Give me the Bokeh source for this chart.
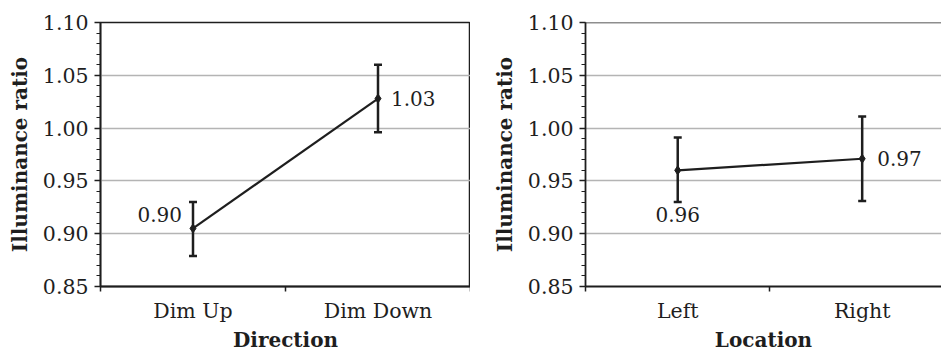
from bokeh.plotting import figure
from bokeh.layouts import row
from bokeh.models import ColumnDataSource, Whisker, TeeHead, FixedTicker, Range1d, Span
from bokeh.core.properties import value
from bokeh.embed import file_html
from bokeh.resources import INLINE

# ---- data ----
dir_categories = ["Dim Up", "Dim Down"]
dir_means = [0.905, 1.028]
dir_lower = [0.879, 0.996]
dir_upper = [0.930, 1.060]
dir_labels = ["0.90", "1.03"]

loc_categories = ["Left", "Right"]
loc_means = [0.960, 0.971]
loc_lower = [0.930, 0.931]
loc_upper = [0.991, 1.011]
loc_labels = ["0.96", "0.97"]

y_ticks = [0.85, 0.90, 0.95, 1.00, 1.05, 1.10]
y_tick_labels = ["0.85", "0.90", "0.95", "1.00", "1.05", "1.10"]
y_minor = [round(0.85 + 0.01 * i, 2) for i in range(26)]
y_start, y_end = 0.85, 1.10

FONT = "DejaVu Serif"
DARK = "#1e1e1e"
GRID = "#b4b4b4"


def make_panel(categories, means, lower, upper, labels, xlabel, width,
               left_border, x_end, label_specs, outline):
    xs = list(range(1, len(categories) + 1))
    src = ColumnDataSource(dict(x=xs, y=means, lo=lower, hi=upper, lab=labels))
    p = figure(width=width, height=354, output_backend="svg", toolbar_location=None,
               x_range=Range1d(0.5, x_end), y_range=Range1d(y_start, y_end),
               min_border_left=left_border, min_border_right=0,
               min_border_top=22, min_border_bottom=67)
    p.background_fill_color = "white"
    p.border_fill_color = "white"
    if outline:
        p.outline_line_color = DARK
        p.outline_line_width = 1.5
    else:
        p.outline_line_color = None
        p.add_layout(Span(location=y_end, dimension="width",
                          line_color=DARK, line_width=1.5))

    # x axis: labels at category centers, ticks at boundaries
    bounds = [i + 0.5 for i in range(len(categories) + 1)]
    p.xaxis.ticker = FixedTicker(ticks=xs, minor_ticks=bounds)
    p.xaxis.major_label_overrides = {x: c for x, c in zip(xs, categories)}
    p.xaxis.major_tick_line_color = None
    p.xaxis.minor_tick_line_color = DARK
    p.xaxis.minor_tick_out = 5
    p.xaxis.minor_tick_in = 0
    p.xaxis.minor_tick_line_width = 1.5
    p.xaxis.axis_label = xlabel

    p.yaxis.ticker = FixedTicker(ticks=y_ticks, minor_ticks=y_minor)
    p.yaxis.major_label_overrides = {t: l for t, l in zip(y_ticks, y_tick_labels)}
    p.yaxis.major_tick_out = 6
    p.yaxis.major_tick_in = 0
    p.yaxis.minor_tick_out = 4
    p.yaxis.minor_tick_in = 0
    p.yaxis.major_tick_line_color = DARK
    p.yaxis.minor_tick_line_color = DARK
    p.yaxis.major_tick_line_width = 1.5
    p.yaxis.minor_tick_line_width = 1.2
    p.yaxis.axis_label = "Illuminance ratio"

    for ax in (p.xaxis, p.yaxis):
        ax.axis_line_color = DARK
        ax.axis_line_width = 1.8
        ax.major_label_text_font = FONT
        ax.major_label_text_font_size = "20.5px"
        ax.major_label_text_color = DARK
        ax.axis_label_text_font = FONT
        ax.axis_label_text_font_style = "bold"
        ax.axis_label_text_font_size = "20px"
        ax.axis_label_text_color = DARK
    p.xaxis.major_label_standoff = 6
    p.xaxis.axis_label_standoff = 2
    p.yaxis.major_label_standoff = 6
    p.yaxis.axis_label_standoff = 8

    p.xgrid.grid_line_color = None
    p.ygrid.ticker = FixedTicker(ticks=y_ticks)
    p.ygrid.grid_line_color = GRID
    p.ygrid.grid_line_width = 1.5

    p.line("x", "y", source=src, line_color=DARK, line_width=2.2)
    p.add_layout(Whisker(source=src, base="x", lower="lo", upper="hi",
                         line_color=DARK, line_width=2.5,
                         upper_head=TeeHead(size=8, line_color=DARK, line_width=2.5),
                         lower_head=TeeHead(size=8, line_color=DARK, line_width=2.5)))
    p.scatter("x", "y", source=src, marker="diamond", size=9,
              fill_color=DARK, line_color=DARK)

    for i, (align, base, dx, dy) in enumerate(label_specs):
        s = ColumnDataSource(dict(x=[xs[i]], y=[means[i]], t=[labels[i]]))
        p.text("x", "y", text="t", source=s, text_align=align, text_baseline=base,
               x_offset=dx, y_offset=dy, text_font=value(FONT),
               text_font_size="20px", text_color=DARK)
    return p


p1 = make_panel(dir_categories, dir_means, dir_lower, dir_upper, dir_labels,
                "Direction", 470, 100, 2.5,
                [("right", "middle", -11, -14), ("left", "middle", 13, 0)],
                True)
p2 = make_panel(loc_categories, loc_means, loc_lower, loc_upper, loc_labels,
                "Location", 471, 115, 2.43,
                [("center", "top", 0, 37), ("left", "middle", 15, 0)],
                False)

layout = row(p1, p2)
open("out.html", "w").write(file_html(layout, INLINE))
